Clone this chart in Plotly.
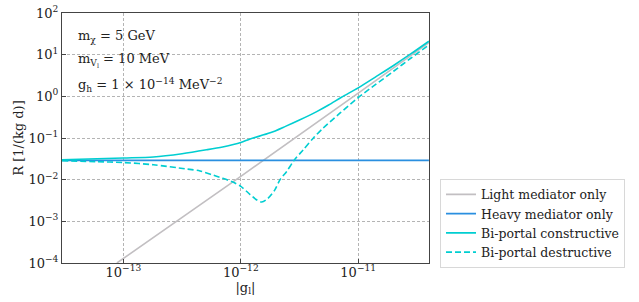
import plotly.graph_objects as go

# ---- data ----
g_light = [8.8e-14, 1e-12, 1e-11, 4.0e-11]
R_light = [1.0e-4, 1.2e-2, 1.2, 19.4]

g_heavy = [3.0e-14, 4.0e-11]
R_heavy = [0.029, 0.029]

g_con = [3.0e-14, 1e-13, 1.8e-13, 3.16e-13, 5.1e-13, 7e-13, 1e-12, 1.2e-12, 1.78e-12,
         2.4e-12, 3.16e-12, 4.43e-12, 5.6e-12, 7.2e-12, 1e-11, 1.4e-11, 2e-11, 2.8e-11, 4.0e-11]
R_con = [0.030, 0.033, 0.035, 0.042, 0.052, 0.061, 0.078, 0.095, 0.133,
         0.19, 0.27, 0.43, 0.62, 0.95, 1.6, 2.9, 5.5, 10.4, 21.0]

g_des = [3.0e-14, 6e-14, 1e-13, 1.8e-13, 3.47e-13, 4.5e-13, 5.83e-13, 6.65e-13, 8.37e-13,
         1e-12, 1.2e-12, 1.36e-12, 1.51e-12, 1.71e-12, 1.95e-12, 2.16e-12, 2.46e-12,
         2.84e-12, 3.4e-12, 4.14e-12, 5e-12, 6.98e-12, 1e-11, 1.4e-11, 2e-11, 2.8e-11, 4.0e-11]
R_des = [0.0285, 0.027, 0.0258, 0.0228, 0.0180, 0.0162, 0.0128, 0.0113, 0.0090,
         0.0069, 0.0044, 0.0033, 0.0029, 0.0036, 0.0057, 0.0100, 0.0157,
         0.029, 0.052, 0.099, 0.17, 0.394, 0.93, 1.9, 4.0, 8.2, 17.0]

x_tickvals = [1e-13, 1e-12, 1e-11]
x_ticktext = ["10<sup>−13</sup>", "10<sup>−12</sup>", "10<sup>−11</sup>"]
y_tickvals = [1e-4, 1e-3, 1e-2, 1e-1, 1e0, 1e1, 1e2]
y_ticktext = ["10<sup>−4</sup>", "10<sup>−3</sup>", "10<sup>−2</sup>", "10<sup>−1</sup>",
              "10<sup>0</sup>", "10<sup>1</sup>", "10<sup>2</sup>"]

FONT = "DejaVu Serif"
CYAN = "#00ced1"
TXT = "#222"

fig = go.Figure()
fig.add_trace(go.Scatter(x=g_light, y=R_light, mode="lines", name="Light mediator only",
                         line=dict(color="#c2bfc2", width=1.6)))
fig.add_trace(go.Scatter(x=g_heavy, y=R_heavy, mode="lines", name="Heavy mediator only",
                         line=dict(color="#2a8fe0", width=1.6)))
fig.add_trace(go.Scatter(x=g_con, y=R_con, mode="lines", name="Bi-portal constructive",
                         line=dict(color=CYAN, width=1.6, shape="spline", smoothing=0.8)))
fig.add_trace(go.Scatter(x=g_des, y=R_des, mode="lines", name="Bi-portal destructive",
                         line=dict(color=CYAN, width=1.6, dash="6px,3px", shape="spline",
                                   smoothing=0.8)))

axis_common = dict(type="log", automargin=False, showline=True, mirror=True,
                   linecolor="#444", linewidth=1,
                   ticks="inside", ticklen=4, tickcolor="#444",
                   showgrid=True, gridcolor="#b4b4b4", griddash="3px,2px", gridwidth=0.8,
                   zeroline=False, tickfont=dict(family=FONT, size=13, color=TXT))

fig.update_xaxes(range=[-13.523, -10.397], tickvals=x_tickvals, ticktext=x_ticktext,
                 ticklabelstandoff=-3,
                 title=dict(text="|g<sub>l</sub>|", font=dict(family=FONT, size=13, color=TXT),
                            standoff=0),
                 **axis_common)
fig.update_yaxes(range=[-4, 2], tickvals=y_tickvals, ticktext=y_ticktext,
                 title=dict(text="R [1/(kg d)]", font=dict(family=FONT, size=13, color=TXT),
                            standoff=1),
                 **axis_common)

annotations = [
    ("m<sub>χ</sub> = 5 GeV", 37),
    ("m<sub>V<sub>l</sub></sub> = 10 MeV", 61),
    ("g<sub>h</sub> = 1 × 10<sup>−14</sup> MeV<sup>−2</sup>", 85),
]
for txt, ypx in annotations:
    fig.add_annotation(text=txt, xref="paper", yref="paper",
                       x=(76 - 62) / 367, y=(263.3 - ypx) / 250.3,
                       xanchor="left", yanchor="middle", showarrow=False,
                       font=dict(family=FONT, size=13, color=TXT))

fig.update_layout(
    width=639, height=302,
    margin=dict(l=62, r=210, t=13, b=39),
    paper_bgcolor="white", plot_bgcolor="white",
    font=dict(family=FONT, size=13, color=TXT),
    showlegend=True,
    legend=dict(x=1.03, y=0.337, xanchor="left", yanchor="top",
                bordercolor="#d8d8d8", borderwidth=1, bgcolor="white",
                font=dict(family=FONT, size=12.5, color=TXT),
                tracegroupgap=0, itemwidth=30),
)

fig.write_html("out.html", config={"displayModeBar": False},
               post_script="document.body.style.margin='0';document.body.style.padding='0';")
